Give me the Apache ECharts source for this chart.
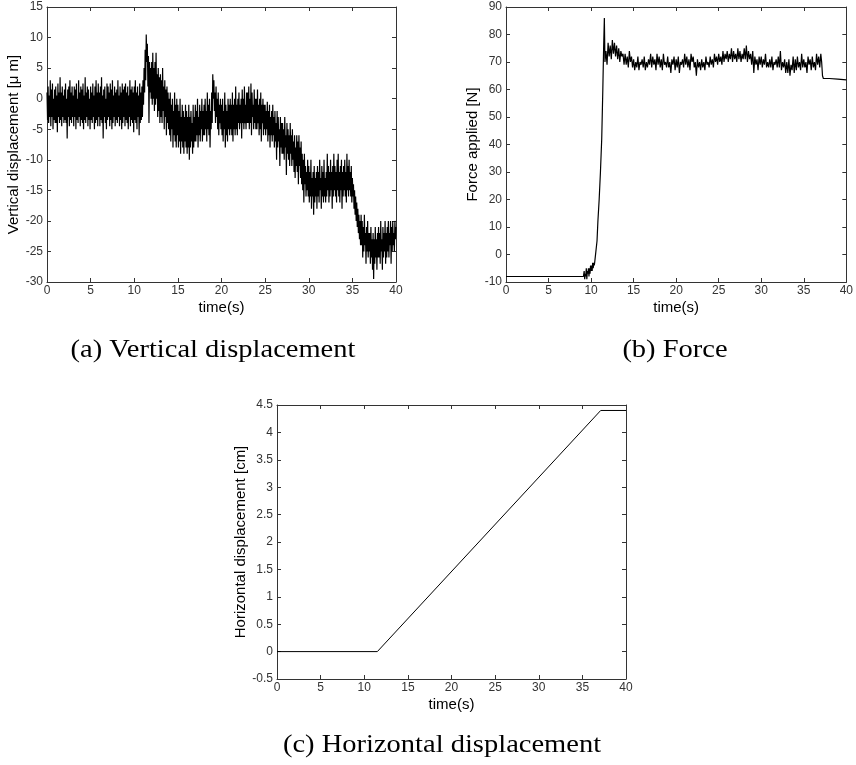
<!DOCTYPE html>
<html><head><meta charset="utf-8">
<script src="https://cdn.jsdelivr.net/npm/echarts@6/dist/echarts.min.js"></script>
<style>html,body{margin:0;padding:0;background:#fff}#c{width:856px;height:765px}</style>
</head><body><div id="c"></div>
<script>
// ---- (a) Vertical displacement [μ m], sampled every 0.0625 s from 0 to 40 s ----
const vertStep = 0.0625;
const vertDisp = [
  1,-3.5,2,-4,0.5,-3,3,-4.5,1.5,-3,2.5,-5,0,-3.5,1.5,-4,
  2,-4,0.5,-5.5,2.5,-3,1,-4,3.5,-3.5,1,-4.5,2,-3,0.5,-4,
  1.5,-3.5,2.5,-4,0,-6.5,1.5,-3,2,-4.5,3,-3.5,1,-4,2,-3,
  0.5,-4.5,2,-3,1.5,-5,2.5,-3.5,0,-4,3,-3,1,-4.5,2,-3.5,
  1.5,-4,2.5,-5,0.5,-3.5,3.5,-4,1,-3,2,-4.5,1.5,-3.5,0,-5,
  2,-3.5,1,-4,2.5,-3,0.5,-5,2,-4,3,-3.5,1,-4.5,2.5,-3,
  1,-4.5,2,-3.5,3.5,-4,0.5,-6.5,1.5,-3,2,-4,0,-5,2.5,-3.5,
  2,-3,1,-4.5,2.5,-3.5,1.5,-5,3,-4,0.5,-3,2,-4.5,1,-3.5,
  1.5,-4,3,-3,0.5,-4.5,2,-3.5,1,-5,2.5,-4,1.5,-3,2,-4.5,
  2.5,-3.5,1,-4,2,-5,0.5,-3,3,-4.5,1.5,-3.5,2,-4,1,-5.5,
  2,-3.5,3,-4,1,-5,2,-3,0.5,-6,2.5,-4,1,-3.5,2,-3,
  3,-1,5,1,8,3,10.5,6,9,2,7,-4,6,1,5,0,
  6,-1,7.5,0,5,-2,6,-1,7.5,0,4,-3,5,-2,3.5,-4,
  4,-3,3,-4,5,-2,2,-5,3,-3,1.5,-6,2,-4,1,-5,
  0,-6,1,-7,-1,-5,0,-8,-2,-6,1,-7,-1,-8,0,-6,
  -1,-8,-2,-7,0,-9,-3,-7,-1,-8,-2,-9,-3,-7,-1,-8,
  -2,-9,-3,-8,-1,-10,-3,-8,-2,-7,-4,-9,-1,-8,-3,-7,
  -1,-7,-2,-6,0,-8,-3,-6,-1,-7,-2,-5,0,-7,-2,-6,
  -1,-6,0,-5,-2,-7,1,-5,-1,-6,0,-8,-2,-5,1,-4,
  4,0,3,-2,1,-4,2,-3,0,-5,1,-6,-1,-4,0,-5,
  -1,-6,0,-7,-2,-5,1,-8,-1,-6,-2,-7,0,-5,-1,-6,
  0,-5,-1,-6,1,-7,-1,-5,0,-6,2,-5,-1,-6,0,-4,
  1,-5,-1,-4,0,-6.5,1.5,-4,0,-5,2,-4,-1,-5,1,-4,
  1,-4,2,-5,0,-4,2.5,-6,1,-3,-1,-5,1.5,-4,0,-5,
  0,-5,1.5,-4,-1,-6,0,-5,1,-7,-1,-4,0,-6,-1,-5,
  -1,-6,-2,-5,-0.5,-7,-2,-6,-1,-8,-3,-6,-2,-7,-1,-6,
  -3,-8,-2,-7,-4,-10,-2,-8,-3,-7,-5,-11,-3,-8,-4,-9,
  -4,-9,-5,-10,-3,-8,-6,-12.5,-4,-9,-5,-10,-6,-11,-4,-9,
  -6,-11,-5,-10,-7,-12,-6,-13,-8,-11,-6,-12,-7,-14,-6,-11,
  -8,-13,-7,-14,-9,-15,-10,-17,-9,-14,-11,-16,-12,-15,-10,-16,
  -11,-17,-12,-16,-10,-18,-13,-16,-12,-19,-11,-17,-13,-16,-12,-18,
  -11,-16,-12,-17,-10,-15,-13,-18,-11,-16,-12,-17,-10,-16,-13,-17,
  -12,-16,-9,-15,-11,-17,-12,-16,-10,-15,-12,-18,-11,-16,-9,-15,
  -11,-16,-12,-17,-10,-15,-9,-16,-12,-17,-11,-15,-10,-18,-12,-16,
  -11,-15,-10,-16,-12,-17,-9,-15,-11,-16,-10,-15,-12,-16,-11,-17,
  -13,-16,-14,-18,-15,-19,-16,-20,-17,-21,-18,-22,-19,-23,-20,-24,
  -19,-24,-20,-26,-21,-25,-19,-24,-22,-27,-21,-25,-20,-26,-22,-25,
  -22,-27,-21,-26,-23,-28,-22,-29.5,-23,-27,-21,-26,-23,-28,-22,-26,
  -21,-26,-22,-27,-20,-25,-23,-28,-21,-26,-22,-25,-20,-27,-22,-26,
  -21,-25,-20,-26,-22,-24,-20,-27,-21,-25,-20,-24,-22,-25,-20,-23,
  -21
];

// ---- (b) Force applied [N] ----
const forceIdle = [[0,-8],[9.1,-8]];
const forceContactStart = 9.125, forceContactStep = 0.0625;
const forceContact = [-8,-6,-9,-7,-8,-5,-9,-6,-7,-5,-8,-5,-7,-4,-6,-4,-6,-3,-5,-3,-4,-2.5,-3];
const forceRamp = [[10.6,-2],[10.7,5],[10.8,12],[10.95,20],[11.1,30],[11.25,42],[11.38,60],[11.48,76],[11.56,86],[11.63,70]];
const forceHoldStart = 11.75, forceHoldStep = 0.125;
const forceHold = [
  74,69,
  77,72,76,71,78,73,77,72,
  76,71,75,70,74,72,73,69,
  73,69,72,68,74,70,72,68,
  71,67,70,68,72,67,70,69,
  71,68,72,67,70,68,71,69,
  73,68,72,69,71,67,73,69,
  72,68,71,67,73,69,70,68,
  72,68,70,66,71,69,72,67,
  71,68,72,66,70,69,71,68,
  73,69,72,68,71,67,73,70,
  72,68,70,65,71,68,70,67,
  71,68,70,67,72,69,70,68,
  72,69,71,68,73,70,72,69,
  73,70,72,69,74,70,73,71,
  74,70,73,71,75,70,74,71,
  73,70,75,71,74,70,73,71,
  75,71,76,70,74,71,73,69,
  74,66,72,69,71,67,72,69,
  72,68,71,69,73,68,70,68,
  71,68,72,67,70,69,71,68,
  72,68,74,67,70,68,71,66,
  70,66,71,65,69,67,72,66,
  71,67,72,68,70,67,73,68,
  71,68,70,66,72,69,71,67,
  72,68,70,67,73,69,72,68,
  73
];
const forceRelease = [[37.1,70],[37.2,65],[37.3,64],[38,64],[39,63.8],[40,63.5]];

// ---- (c) Horizontal displacement [cm] ----
const horizDisp = [[0,0],[11.5,0],[37.1,4.4],[40,4.4]];

// ---- axis ranges / labels ----
const timeAxis = {min:0, max:40, interval:5, name:'time(s)'};
const vertAxis = {min:-30, max:15, interval:5, name:'Vertical displacement [\u03bc m]'};
const forceAxis = {min:-10, max:90, interval:10, name:'Force applied [N]'};
const horizAxis = {min:-0.5, max:4.5, interval:0.5, name:'Horizontal displacement [cm]'};
const captions = ['(a) Vertical displacement','(b) Force','(c) Horizontal displacement'];

const uniform = (start, step, vals) => vals.map((v,i)=>[start + i*step, v]);
const vertData = uniform(0, vertStep, vertDisp);
const forceData = forceIdle.concat(uniform(forceContactStart, forceContactStep, forceContact), forceRamp,
  uniform(forceHoldStart, forceHoldStep, forceHold), forceRelease);

const grids = [
  {left:47, top:7, width:349, height:275},
  {left:506, top:7, width:348, height:275},
  {left:277, top:405, width:349, height:274}
];
const axColor = '#333';
const labelStyle = {color:'#333', fontSize:12, fontFamily:'"Liberation Sans", Arial, sans-serif'};
const nameStyle = {color:'#000', fontSize:15, fontFamily:'"Liberation Sans", Arial, sans-serif'};
const tick = {show:true, inside:true, length:4, lineStyle:{color:axColor}};
const line = {show:true, onZero:false, lineStyle:{color:axColor, width:1}};

const xAxes = [], yAxes = [];
const yDefs = [vertAxis, forceAxis, horizAxis];
const yGaps = [22, 22, 25];
grids.forEach((g, i) => {
  xAxes.push({type:'value', gridIndex:i, position:'bottom', min:timeAxis.min, max:timeAxis.max, interval:timeAxis.interval,
    name:timeAxis.name, nameLocation:'middle', nameGap:18, nameTextStyle:nameStyle,
    axisLine:line, axisTick:tick, axisLabel:Object.assign({margin:3}, labelStyle), splitLine:{show:false}});
  xAxes.push({type:'value', gridIndex:i, position:'top', min:timeAxis.min, max:timeAxis.max, interval:timeAxis.interval,
    axisLine:line, axisTick:tick, axisLabel:{show:false}, splitLine:{show:false}});
  const y = yDefs[i];
  yAxes.push({type:'value', gridIndex:i, position:'left', min:y.min, max:y.max, interval:y.interval,
    name:y.name, nameLocation:'middle', nameGap:yGaps[i], nameTextStyle:nameStyle,
    axisLine:line, axisTick:tick, axisLabel:Object.assign({margin:4}, labelStyle), splitLine:{show:false}});
  yAxes.push({type:'value', gridIndex:i, position:'right', min:y.min, max:y.max, interval:y.interval,
    axisLine:line, axisTick:tick, axisLabel:{show:false}, splitLine:{show:false}});
});

const mkSeries = (i, data, w) => ({type:'line', xAxisIndex:2*i, yAxisIndex:2*i, data:data, showSymbol:false, symbol:'none',
  sampling:null, lineStyle:{color:'#000', width:w}, silent:true, animation:false});

const capPos = [[213,350],[675,350],[442,745]];
const chart = echarts.init(document.getElementById('c'), null, {renderer:'canvas'});
chart.setOption({
  animation:false,
  backgroundColor:'#fff',
  grid: grids.map(g => Object.assign({containLabel:false, show:false}, g)),
  xAxis: xAxes,
  yAxis: yAxes,
  series: [mkSeries(0, vertData, 1.2), mkSeries(1, forceData, 1.2), mkSeries(2, horizDisp, 1)],
  graphic: captions.map((t,i)=>({type:'text', x:capPos[i][0], y:capPos[i][1], scaleX:1.14, silent:true,
    style:{text:t, fill:'#000', font:'25px "Liberation Serif", "Times New Roman", serif', align:'center', verticalAlign:'middle'}}))
});
</script></body></html>
